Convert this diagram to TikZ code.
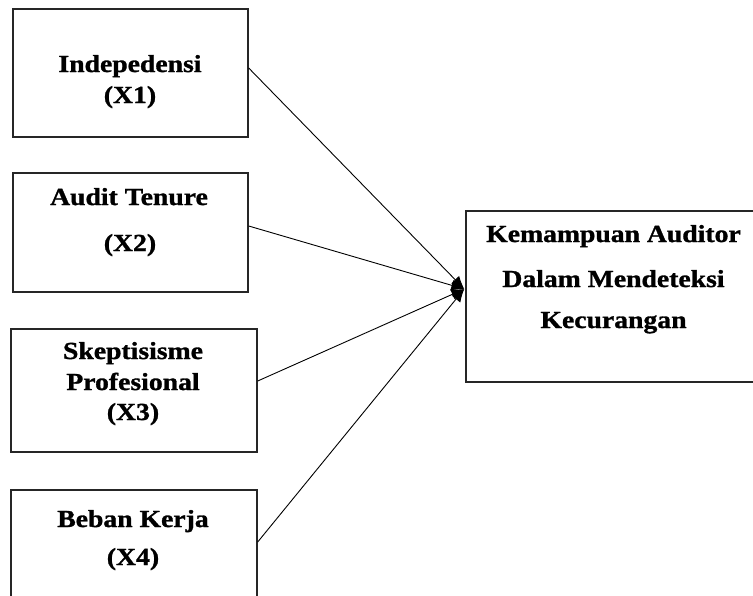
\documentclass[tikz,border=0pt]{standalone}
\usepackage{fontspec}
\setmainfont{Liberation Serif}[FakeStretch=1.13,BoldFeatures={FakeBold=1.2}]
\usetikzlibrary{arrows.meta}
\begin{document}
\begin{tikzpicture}[x=1pt,y=-1pt,
  box/.style={draw=black!85,line width=1.4pt,inner sep=0pt,fill=none},
  lbl/.style={anchor=base,inner sep=0pt,font=\fontsize{24.5}{28}\selectfont\bfseries},
  conn/.style={line width=0.9pt,-{Latex[length=13pt,width=11pt]}}]
\useasboundingbox (0,0) rectangle (753,595);
\clip (0,0) rectangle (753,595);
% boxes
\node[box,minimum width=235pt,minimum height=128pt] (b1) at (130.5,73) {};
\node[box,minimum width=235pt,minimum height=119pt] (b2) at (130.5,232.5) {};
\node[box,minimum width=246pt,minimum height=123pt] (b3) at (134,390.5) {};
\node[box,minimum width=246pt,minimum height=130pt] (b4) at (134,555) {};
\node[box,minimum width=314pt,minimum height=171pt] (k) at (623,296.5) {};
% texts
\node[lbl] (t1a) at (130,72) {Indepedensi};
\node[lbl] (t1b) at (130,103) {(X1)};
\node[lbl] (t2a) at (129,205) {Audit Tenure};
\node[lbl] (t2b) at (130,251) {(X2)};
\node[lbl] (t3a) at (133,359) {Skeptisisme};
\node[lbl] (t3b) at (133,390) {Profesional};
\node[lbl] (t3c) at (133,420) {(X3)};
\node[lbl] (t4a) at (133,527) {Beban Kerja};
\node[lbl] (t4b) at (133,565) {(X4)};
\node[lbl] (ka) at (613.5,242) {Kemampuan Auditor};
\node[lbl] (kb) at (613.5,287) {Dalam Mendeteksi};
\node[lbl] (kc) at (613.5,328) {Kecurangan};
% connectors
\coordinate (tip) at ([yshift=7.5pt,xshift=-1pt]k.west);
\draw[conn] ([yshift=5pt]b1.east) -- (tip);
\draw[conn] ([yshift=6.5pt]b2.east) -- (tip);
\draw[conn] ([yshift=9.5pt]b3.east) -- (tip);
\draw[conn] ([yshift=13pt]b4.east) -- (tip);
\end{tikzpicture}
\end{document}
